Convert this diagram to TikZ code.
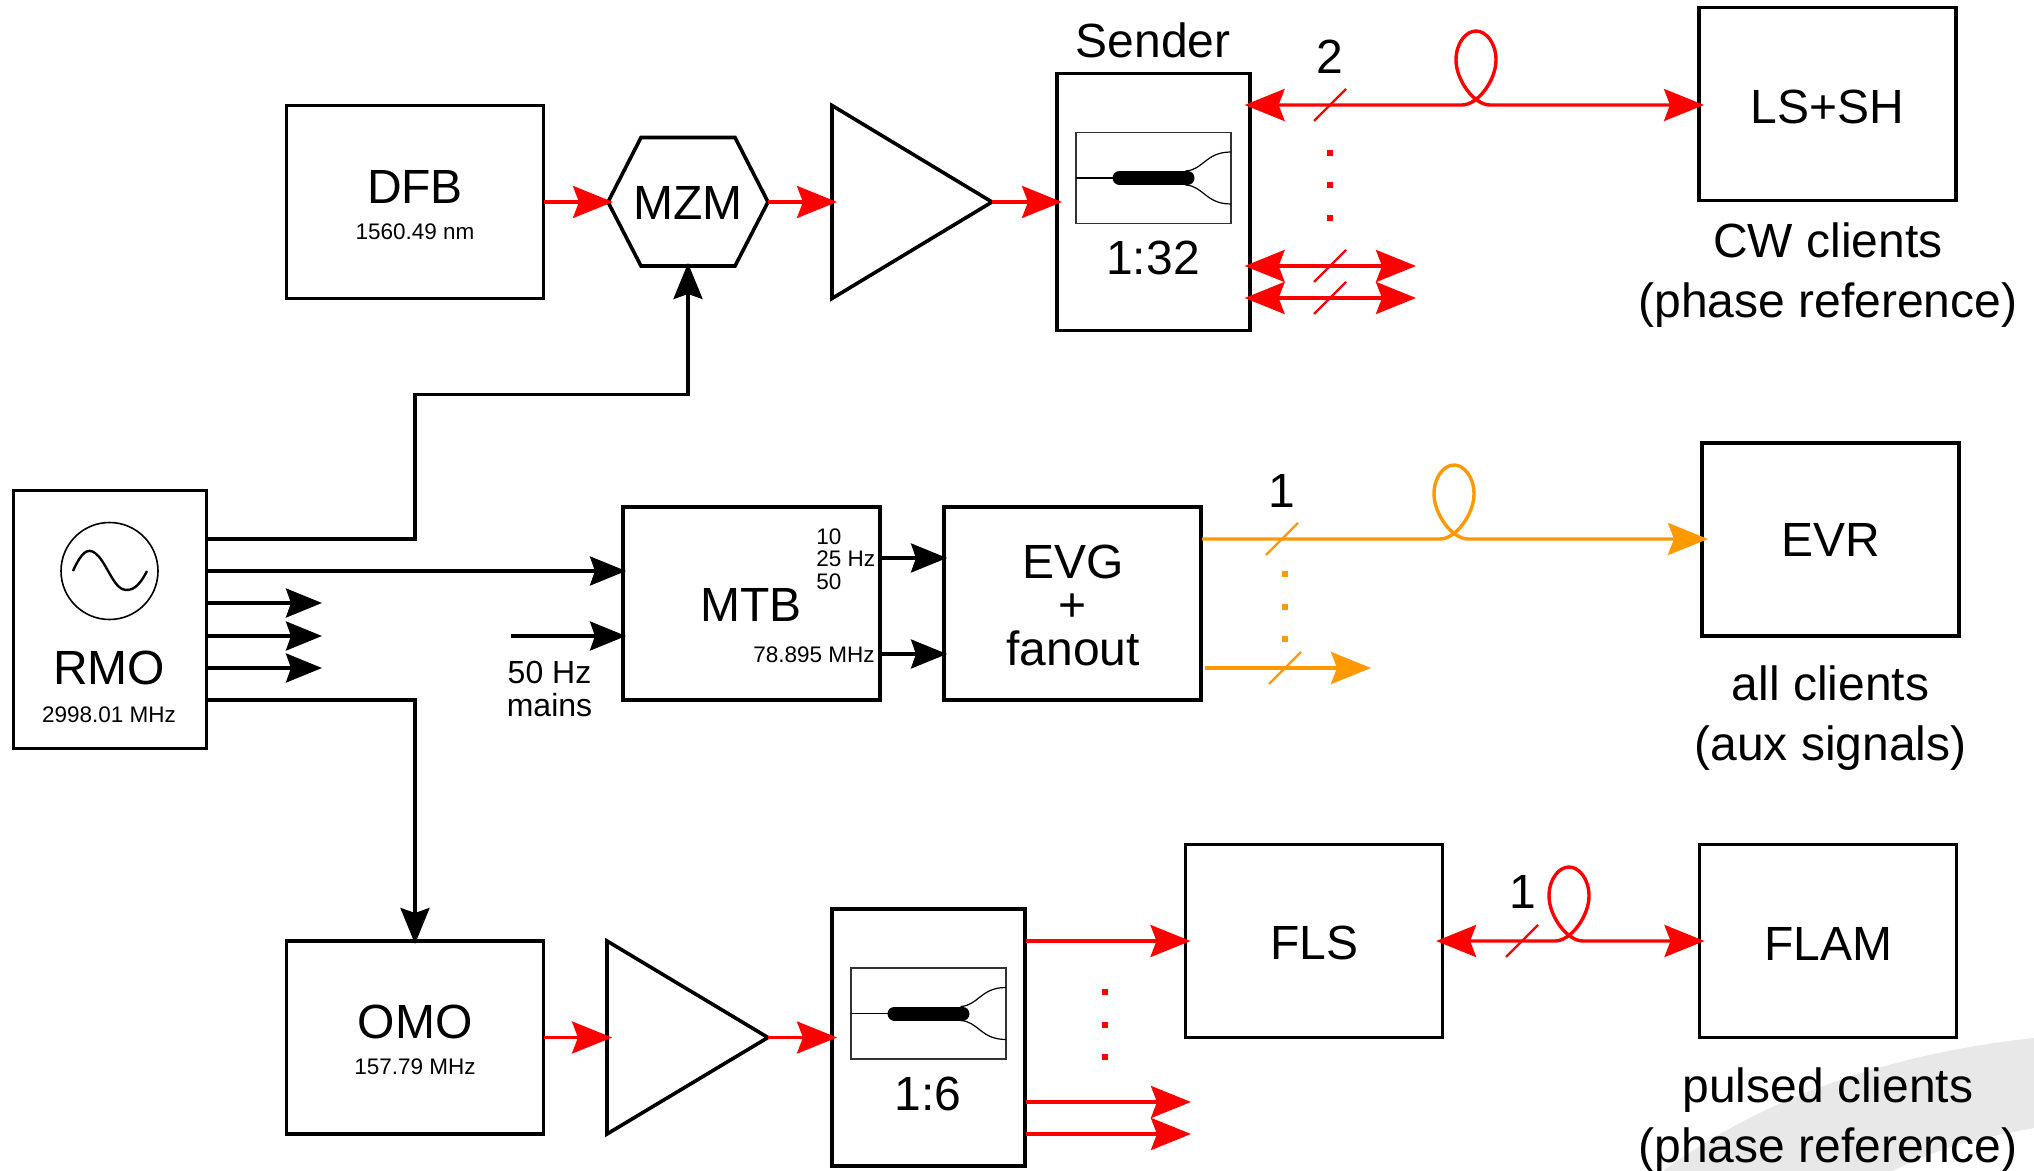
\documentclass[tikz,border=0pt]{standalone}
\usepackage{fontspec}
\setmainfont{Liberation Sans}
\usetikzlibrary{arrows.meta}
\definecolor{fibreorange}{HTML}{FF9900}
\definecolor{wedgegrey}{HTML}{E8E8E8}
\newcommand{\bigtext}{\fontsize{24}{30}\selectfont}
\newcommand{\midtext}{\fontsize{16}{16.5}\selectfont}
\newcommand{\smalltext}{\fontsize{11.25}{11.25}\selectfont}
% fibre loop, crossing at (#1,#2)
\newcommand{\fibreloop}[2]{-- (#1-14,#2) .. controls (#1+2,#2) and (#1+20,#2-25) .. (#1+20,#2-45) .. controls (#1+20,#2-62) and (#1+10,#2-74) .. (#1,#2-74) .. controls (#1-10,#2-74) and (#1-20,#2-62) .. (#1-20,#2-45) .. controls (#1-20,#2-25) and (#1-2,#2) .. (#1+14,#2)}
\newcommand{\fibreslash}[3]{\draw[#3, line width=1.2pt] (#1-16,#2+16) -- (#1+16,#2-16);}
% splitter drawing, inner box centred on (#1,#2)
\newcommand{\splitter}[2]{
    \draw[line width=0.8pt, black!80] (#1-77.5,#2-45.5) rectangle (#1+77.5,#2+45.5);
    \draw[line width=0.6pt] (#1-77.5,#2) -- (#1-38,#2);
    \draw[line width=7pt, line cap=round] (#1-34,#2) -- (#1+34,#2);
    \draw[line width=0.6pt] (#1+32,#2-7) .. controls (#1+50,#2-8) and (#1+52,#2-26) .. (#1+77.5,#2-26);
    \draw[line width=0.6pt] (#1+32,#2+7) .. controls (#1+50,#2+8) and (#1+52,#2+26) .. (#1+77.5,#2+26);
}
\begin{document}
\begin{tikzpicture}[x=0.5pt, y=-0.5pt,
    main/.style = {draw, line width=1.8pt, inner sep=0pt, outer sep=0pt, align=center, font=\bigtext},
    box/.style = {main, minimum width=128.5pt, minimum height=96.5pt},
    tallbox/.style = {main, minimum width=96.5pt, minimum height=128.5pt},
    outline/.style = {main, draw=none},
    label/.style = {inner sep=0pt, align=center, font=\bigtext},
    small/.style = {inner sep=0pt, align=center, font=\smalltext},
    redline/.style = {red, line width=1.7pt, -{Stealth[length=20pt, width=16pt, inset=3pt]}, shorten >=-2.5pt},
    redboth/.style = {red, line width=1.7pt, {Stealth[length=20pt, width=16pt, inset=3pt]}-{Stealth[length=20pt, width=16pt, inset=3pt]}, shorten >=-2.5pt, shorten <=-3.2pt},
    orangeline/.style = {fibreorange, line width=1.7pt, -{Stealth[length=20pt, width=16pt, inset=3pt]}},
    blackline/.style = {black, line width=1.7pt, -{Stealth[length=18pt, width=14.5pt, inset=2.5pt]}, shorten >=-1.5pt},
    reddots/.style = {red, line width=3pt, dash pattern=on 3pt off 13.25pt},
    orangedots/.style = {fibreorange, line width=3pt, dash pattern=on 3pt off 13.25pt}]

    \useasboundingbox (0,0) rectangle (2034,1171);

    % grey corner
    \fill[wedgegrey] (2034,1038) .. controls (1920,1050) and (1780,1085) .. (1663,1171) -- (1893,1171) .. controls (1930,1150) and (1980,1138) .. (2034,1128) -- cycle;

    % boxes
    \node[tallbox, minimum width=96.5pt, minimum height=129pt] (RMO) at (110,619.5) {};
    \node[box] (DFB) at (415,202) {};
    \node[outline, minimum width=80pt, minimum height=64pt, text height=18pt] (MZM) at (688,202) {MZM};
    \node[outline, minimum width=80pt, minimum height=96.5pt] (ampA) at (912,202) {};
    \node[tallbox] (Sender) at (1153.5,202) {};
    \node[box, text height=20pt] (LSSH) at (1827.5,104) {LS+SH};
    \node[box] (MTB) at (751.5,603.5) {};
    \node[box] (EVG) at (1072.5,603.5) {};
    \node[box] (EVR) at (1830.5,539.5) {EVR};
    \node[box] (OMO) at (415,1037.5) {};
    \node[outline, minimum width=80.5pt, minimum height=96.5pt] (ampB) at (687.5,1037.5) {};
    \node[tallbox] (split) at (928.5,1037.5) {};
    \node[box, text height=19pt] (FLS) at (1314,941) {FLS};
    \node[box, text height=19pt] (FLAM) at (1828,941) {FLAM};

    \draw[main] (MZM.west) -- (641,137.5) -- (735,137.5) -- (MZM.east) -- (735,266) -- (641,266) -- cycle;
    \draw[main, line join=miter] (ampA.north west) -- (ampA.east) -- (ampA.south west) -- cycle;
    \draw[main, line join=miter] (ampB.north west) -- (ampB.east) -- (ampB.south west) -- cycle;

    % texts
    \node[label] (dfbname) at (415,187) {DFB};
    \node[small] (dfbf) at (415,232) {1560.49 nm};
    \node[label] (omoname) at (415,1022) {OMO};
    \node[small] (omof) at (415,1067) {157.79 MHz};
    \node[label] (sendername) at (1153,40) {Sender};
    \node[label] (senderratio) at (1153,258) {1:32};
    \node[label] (splitratio) at (928,1094) {1:6};
    \node[label] (twoA) at (1330,57) {2};
    \node[label] (oneA) at (1282,491) {1};
    \node[label] (oneB) at (1523,892) {1};
    \node[label] (cwtext) at (1828,275.5) {CW clients\\(phase reference)};
    \node[label] (auxtext) at (1830.5,718) {all clients\\(aux signals)};
    \node[label] (pulsedtext) at (1828,1120) {pulsed clients\\(phase reference)};
    \node[label] (rmoname) at (109,668) {RMO};
    \node[small] (rmof) at (109,714.5) {2998.01 MHz};
    \node[label] (mtbname) at (751,605) {MTB};
    \node[label, font=\fontsize{24}{21.75}\selectfont] (evgname) at (1073,605) {EVG\\+\\fanout};
    \node[label, font=\midtext] (mainstext) at (549.5,689) {50 Hz\\mains};
    \node[small, align=left, anchor=west] (ratestext) at (816,559) {10\\25 Hz\\50};
    \node[small, anchor=east] (mtbf) at (875,654.5) {78.895 MHz};

    % oscillator
    \node[draw, circle, line width=0.8pt, minimum size=48.5pt, inner sep=0pt, outer sep=0pt] (osc) at (109.5,571) {};
    \draw[line width=1.2pt] (73,571) .. controls (82,551) and (88,548) .. (95,553) .. controls (105,560) and (112,584) .. (122,589) .. controls (132,593) and (140,585) .. (147,571);

    % splitters
    \splitter{1153.5}{178}
    \splitter{928.5}{1013.5}

    \coordinate (rmoA) at (206,539);
    \coordinate (rmoB) at (206,571);
    \coordinate (rmoC) at (206,603);
    \coordinate (rmoD) at (206,636);
    \coordinate (rmoE) at (206,668);
    \coordinate (rmoF) at (206,700);
    \coordinate (rmoCend) at (322,603);
    \coordinate (rmoDend) at (322,636);
    \coordinate (rmoEend) at (322,668);
    \coordinate (bend) at (415,394.5);
    \coordinate (mains) at (511,636);
    \coordinate (mtbA) at (880,558);
    \coordinate (mtbB) at (880,654);

    % black connectors
    \draw[blackline] (rmoA) -| (bend) -| (MZM.south);
    \draw[blackline] (rmoB) -- (rmoB -| MTB.west);
    \draw[blackline, shorten >=0pt] (rmoC) -- (rmoCend);
    \draw[blackline, shorten >=0pt] (rmoD) -- (rmoDend);
    \draw[blackline, shorten >=0pt] (rmoE) -- (rmoEend);
    \draw[blackline] (mains) -- (mains -| MTB.west);
    \draw[blackline] (rmoF) -| (OMO.north);
    \draw[blackline] (mtbA) -- (mtbA -| EVG.west);
    \draw[blackline] (mtbB) -- (mtbB -| EVG.west);

    % red connectors
    \path[redline] (DFB) edge (MZM);
    \path[redline] (MZM) edge (ampA);
    \draw[redline] (ampA.east) -- (Sender.west);
    \path[redline] (OMO) edge (ampB);
    \draw[redline] (ampB.east) -- (split.west);

    \coordinate (sendA) at (1251,266);
    \coordinate (sendB) at (1251,298);
    \coordinate (sendC) at (1251,105);
    \coordinate (sendAend) at (1411,266);
    \coordinate (sendBend) at (1411,298);
    \draw[redboth] (sendC) \fibreloop{1476}{105} -- (sendC -| LSSH.west);
    \draw[redboth] (sendA) -- (sendAend);
    \draw[redboth] (sendB) -- (sendBend);
    \fibreslash{1330}{105}{red}
    \fibreslash{1330}{266}{red}
    \fibreslash{1330}{298}{red}
    \draw[reddots] (1330,150) -- (1330,221);

    \coordinate (splitA) at (1026,941);
    \coordinate (splitB) at (1026,1102);
    \coordinate (splitC) at (1026,1134);
    \coordinate (splitBend) at (1186,1102);
    \coordinate (splitCend) at (1186,1134);
    \draw[redline] (splitA) -- (FLS.west);
    \draw[redline] (splitB) -- (splitBend);
    \draw[redline] (splitC) -- (splitCend);
    \draw[reddots] (1105,989) -- (1105,1060);

    \draw[redboth] (FLS) ++(128.5,0) \fibreloop{1569}{941} -- (FLAM.west);
    \fibreslash{1522}{941}{red}

    % orange connectors
    \coordinate (evgA) at (1202,539);
    \coordinate (evgB) at (1205,668);
    \coordinate (evgBend) at (1371,668);
    \draw[orangeline, shorten >=-3pt] (evgA) \fibreloop{1454}{539} -- (evgA -| EVR.west);
    \draw[orangeline] (evgB) -- (evgBend);
    \fibreslash{1282}{539}{fibreorange}
    \fibreslash{1285}{668}{fibreorange}
    \draw[orangedots] (1285,571) -- (1285,642);
\end{tikzpicture}
\end{document}
